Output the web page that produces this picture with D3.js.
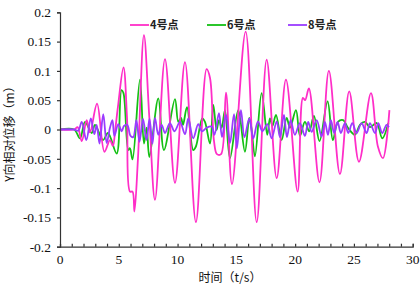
<!DOCTYPE html>
<html>
<head>
<meta charset="utf-8">
<script src="https://cdn.jsdelivr.net/npm/d3@7"></script>
<style>
  body { margin: 0; background: #fff; }
  svg { display: block; }
  .serif { font-family: "Liberation Serif", "Times New Roman", "DejaVu Serif", serif; }
  .cjk { font-family: "Noto Sans CJK SC", sans-serif; }
</style>
</head>
<body>
<script>
const WIDTH = 420;
const HEIGHT = 288;
const LEFT = 60, RIGHT = 412.7, TOP = 12.3, BOTTOM = 246.7;

const xTicks = [0, 5, 10, 15, 20, 25, 30];
const yTicks = [-0.2, -0.15, -0.1, -0.05, 0, 0.05, 0.1, 0.15, 0.2];
const yTickLabels = ["-0.2", "-0.15", "-0.1", "-0.05", "0", "0.05", "0.1", "0.15", "0.2"];
const seriesNames = ["4号点", "6号点", "8号点"];
const seriesColors = ["#ff2ec8", "#13c013", "#9a3cff"];

// 4号点
const t4 = [0, 1.2, 1.5, 1.85, 2.27, 2.55, 3.15, 3.78, 4.25, 4.5, 4.7, 4.93, 5.4, 5.7, 5.95, 6.17, 6.33, 6.63,
  7.14, 7.6, 8.08, 8.93, 9.78, 10.63, 11.56, 12.47, 12.76, 13.1, 13.35, 13.7, 14.12, 14.63, 15.79, 16.73,
  17.58, 18.43, 19.22, 20.21, 20.66, 20.85, 21.17, 22.07, 22.87, 23.81, 24.6, 25.43, 26.45, 27.04, 27.47, 28.02];
const y4 = [0, 0, 0.004, -0.02, 0.016, -0.005, 0.044, -0.038, -0.018, -0.028, 0.0, 0.039, 0.106, 0.02, -0.106, -0.106, -0.14, -0.05,
  0.161, 0.02, -0.12, 0.12, -0.091, 0.115, -0.158, 0.103, 0.088, -0.02, -0.042, -0.042, 0.063, -0.093, 0.167, -0.158,
  0.119, -0.083, 0.085, -0.106, 0.054, 0.05, 0.07, -0.09, 0.1, -0.076, 0.065, -0.055, 0.062, -0.029, -0.049, 0.033];

// 6号点
const t6 = [0, 1.2, 1.7, 2.13, 2.7, 2.98, 3.66, 4.08, 4.82, 5.23, 5.4, 5.81, 5.95, 6.17, 6.8, 7.14, 7.37, 7.6,
  8.36, 8.84, 9.78, 10.06, 10.29, 10.46, 10.8, 11.33, 11.56, 12.1, 12.33, 12.76, 13.04, 13.32, 13.52, 13.75,
  14.03, 14.46, 15.16, 15.73, 16.1, 16.28, 16.58, 17.15, 17.63, 17.86, 18.07, 18.37, 18.85, 19.28, 19.56,
  20.07, 20.41, 20.83, 21.2, 21.6, 22.07, 22.76, 23.21, 23.64, 24.09, 24.49, 25.09, 25.51, 25.94, 26.36,
  26.93, 27.41, 27.93];
const y6 = [0, 0, -0.015, 0.013, -0.006, 0.008, -0.018, -0.006, -0.041, 0.067, 0.062, -0.035, -0.032, -0.051, 0.085, -0.024, 0.003, -0.047,
  0.053, -0.035, 0.052, 0.013, 0.02, 0.008, 0.038, -0.035, -0.029, 0.019, 0.013, -0.024, 0.042, -0.001, 0.016, 0.003,
  0.033, -0.049, 0.033, -0.038, 0.02, 0.003, -0.046, 0.062, -0.009, 0.019, 0.006, 0.025, -0.018, 0.02, 0.003,
  0.033, -0.011, 0.013, -0.003, 0.023, -0.02, 0.048, -0.018, 0.013, 0.016, 0.003, -0.009, 0.008, 0.013, 0.004,
  0.011, -0.015, 0.011];

// 8号点
const t8 = [0, 1.2, 1.55, 1.85, 2.24, 2.62, 2.92, 3.12, 3.36, 3.68, 3.97, 4.25, 4.46, 4.63, 4.96, 5.25, 5.44, 5.72,
  6.0, 6.23, 6.5, 6.76, 7.06, 7.36, 7.61, 7.87, 8.08, 8.36, 8.65, 8.93, 9.35, 9.74, 10.2, 10.63, 10.91, 11.33,
  11.76, 12.07, 12.47, 12.9, 13.14, 13.52, 13.78, 14.12, 14.46, 14.8, 15.05, 15.39, 15.69, 16.1, 16.44, 16.84,
  17.22, 17.63, 18.0, 18.43, 18.71, 19.05, 19.3, 19.62, 19.98, 20.41, 20.83, 21.11, 21.4, 21.83, 22.25, 22.53,
  22.79, 23.04, 23.32, 23.61, 23.89, 24.23, 24.52, 24.86, 25.23, 25.65, 26.08, 26.36, 26.79, 27.07, 27.41,
  27.78, 27.98];
const y8 = [0, 0, -0.002, 0.013, -0.018, 0.019, -0.008, 0.008, -0.024, 0.026, -0.023, 0.003, 0.016, -0.011, 0.009, -0.003, 0.006, 0.008,
  -0.011, -0.013, 0.016, -0.021, 0.018, -0.018, 0.018, -0.024, 0.02, -0.009, 0.008, -0.006, 0.011, -0.003, 0.013, -0.008, 0.019, -0.015,
  0.009, -0.003, 0.003, 0.005, -0.009, 0.028, -0.013, 0.025, -0.023, 0.026, -0.032, 0.033, -0.013, 0.019, -0.015, 0.014,
  -0.003, 0.009, -0.015, 0.014, -0.013, 0.025, -0.013, 0.016, -0.009, 0.011, -0.011, 0.013, -0.004, 0.016, -0.012, 0.013,
  -0.009, 0.016, -0.006, 0.013, -0.006, 0.011, -0.006, 0.011, -0.006, 0.011, -0.006, 0.011, -0.006, 0.011, -0.006,
  0.008, 0.004];

const series = [
  { name: seriesNames[0], color: seriesColors[0], t: t4, y: y4 },
  { name: seriesNames[1], color: seriesColors[1], t: t6, y: y6 },
  { name: seriesNames[2], color: seriesColors[2], t: t8, y: y8 }
];

const svg = d3.select("body").append("svg").attr("width", WIDTH).attr("height", HEIGHT);

const xScale = d3.scaleLinear().domain([0, 30]).range([LEFT, RIGHT]);
const yScale = d3.scaleLinear().domain([-0.2, 0.2]).range([BOTTOM, TOP]);

const line = d3.line()
  .x(d => xScale(d[0]))
  .y(d => yScale(d[1]))
  .curve(d3.curveCatmullRom.alpha(0.5));

// draw order: 6, 4, 8 so purple sits on top
[series[1], series[0], series[2]].forEach(s => {
  svg.append("path")
    .datum(s.t.map((t, i) => [t, s.y[i]]))
    .attr("fill", "none")
    .attr("stroke", s.color)
    .attr("stroke-width", 1.8)
    .attr("stroke-linejoin", "round")
    .attr("d", line);
});

// x axis: ticks point up into the plot, one per second
const xAxis = d3.axisBottom(xScale).tickValues(d3.range(0, 31, 1)).tickSize(-3).tickFormat("");
const gx = svg.append("g").attr("transform", "translate(0," + BOTTOM + ")").call(xAxis);
gx.select(".domain").attr("stroke", "#333").attr("stroke-width", 1.2);
gx.selectAll(".tick line").attr("stroke", "#333").attr("stroke-width", 1.2);

svg.append("g").selectAll("text")
  .data(xTicks).enter().append("text")
  .attr("class", "serif")
  .attr("x", d => xScale(d))
  .attr("y", 264)
  .attr("text-anchor", "middle")
  .style("font-size", "13.5px")
  .attr("fill", "#111")
  .text(d => d);

// y axis
const yAxis = d3.axisLeft(yScale).tickValues(yTicks).tickSize(3).tickFormat((d, i) => yTickLabels[i]);
const gy = svg.append("g").attr("transform", "translate(" + LEFT + ",0)").call(yAxis);
gy.attr("font-family", null).attr("font-size", null);
gy.select(".domain").attr("stroke", "#333").attr("stroke-width", 1.2);
gy.selectAll(".tick line").attr("stroke", "#333").attr("stroke-width", 1.2);
gy.selectAll(".tick text")
  .attr("class", "serif")
  .attr("x", -9)
  .style("font-size", "13.5px")
  .attr("fill", "#111");

// axis titles
svg.append("text")
  .attr("class", "cjk")
  .attr("x", 230).attr("y", 281.5)
  .attr("text-anchor", "middle")
  .style("font-size", "12px")
  .attr("fill", "#111")
  .text("时间（t/s）");

svg.append("text")
  .attr("class", "cjk")
  .attr("transform", "translate(14,131) rotate(-90)")
  .attr("text-anchor", "middle")
  .style("font-size", "12px")
  .attr("fill", "#111")
  .text("Y向相对位移（m）");

// legend
const legendX = [130, 207, 288];
const legend = svg.append("g").selectAll("g")
  .data(series).enter().append("g")
  .attr("transform", (d, i) => "translate(" + legendX[i] + ",25)");

legend.append("line")
  .attr("x1", 0).attr("x2", 19)
  .attr("stroke", d => d.color)
  .attr("stroke-width", 1.8);

legend.append("text")
  .attr("class", "cjk")
  .attr("x", 20).attr("y", 4)
  .style("font-size", "11px")
  .attr("font-weight", "bold")
  .attr("fill", "#222")
  .text(d => d.name);
</script>
</body>
</html>
